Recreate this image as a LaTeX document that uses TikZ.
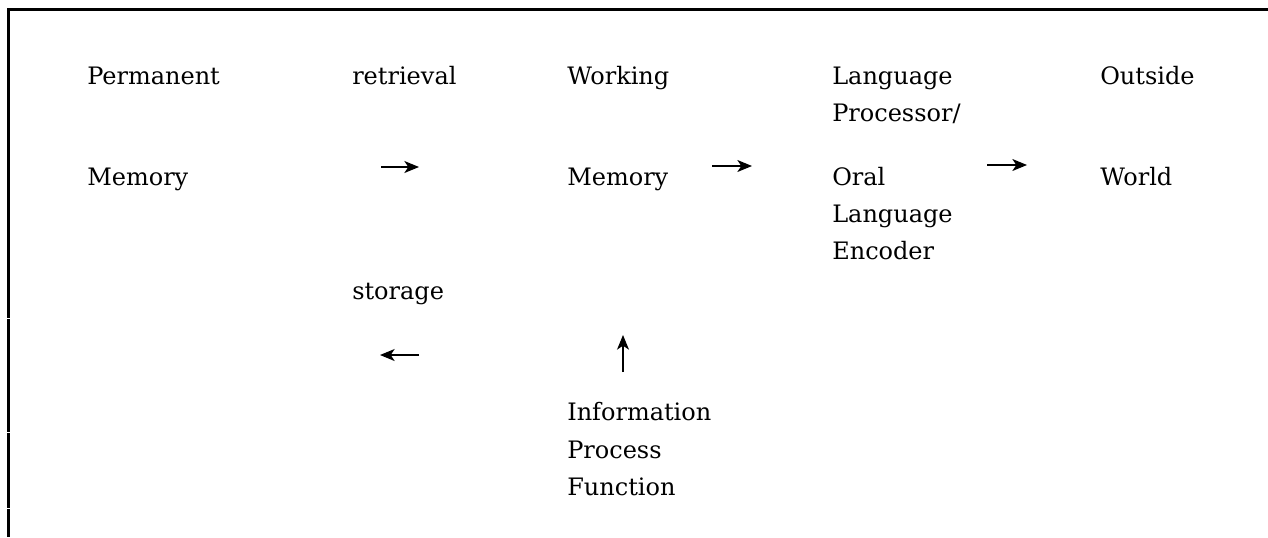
\documentclass[tikz,border=0pt]{standalone}
\usepackage{fontspec}
\setmainfont{DejaVu Serif}
\usetikzlibrary{arrows.meta}

\tikzset{
    word/.style={anchor=base west, inner sep=0pt, font=\fontsize{18}{22}\selectfont},
    flow/.style={-{Stealth[length=11pt,width=9pt,inset=3pt]}, line width=0.9pt},
    rule/.style={line width=2.25pt}
}

\begin{document}
\begin{tikzpicture}[x=0.75pt,y=-0.75pt]
            \useasboundingbox (0,0) rectangle (1268,537);

            % frame
            \draw[rule] (7,9.5) -- (1268,9.5);
            \draw[rule] (8.5,8) -- (8.5,317.5);
            \draw[rule] (8.5,318.5) -- (8.5,431.5);
            \draw[rule] (8.5,432.5) -- (8.5,507.5);
            \draw[rule] (8.5,508.5) -- (8.5,537);

            % first row
            \node[word] (perm) at (87,84) {Permanent};
            \node[word] (permmem) at (87,185) {Memory};
            \node[word] (retr) at (352,84) {retrieval};
            \node[word] (work) at (567,84) {Working};
            \node[word] (workmem) at (567,185) {Memory};
            \node[word] (lang) at (832,84) {Language};
            \node[word] (proc) at (832,121) {Processor/};
            \node[word] (oral) at (832,185) {Oral};
            \node[word] (olang) at (832,222) {Language};
            \node[word] (enc) at (832,259) {Encoder};
            \node[word] (outs) at (1100,84) {Outside};
            \node[word] (world) at (1100,185) {World};

            % lower part
            \node[word] (stor) at (352,299) {storage};
            \node[word] (info) at (567,420) {Information};
            \node[word] (ipro) at (567,458) {Process};
            \node[word] (func) at (567,495) {Function};

            \coordinate (r1a) at (381,167);
            \coordinate (r1b) at (419,167);
            \coordinate (r2a) at (712,166);
            \coordinate (r2b) at (752,166);
            \coordinate (r3a) at (987,165);
            \coordinate (r3b) at (1027,165);
            \coordinate (l1a) at (419,355);
            \coordinate (l1b) at (380,355);
            \coordinate (u1a) at (623,372);
            \coordinate (u1b) at (623,335);

            \draw[flow] (r1a) -- (r1b);
            \draw[flow] (r2a) -- (r2b);
            \draw[flow] (r3a) -- (r3b);
            \draw[flow] (l1a) -- (l1b);
            \draw[flow] (u1a) -- (u1b);
\end{tikzpicture}
\end{document}
